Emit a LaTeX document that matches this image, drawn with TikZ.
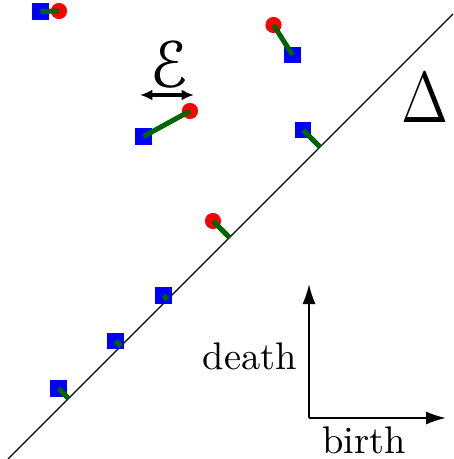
\documentclass[tikz,border=0pt]{standalone}
\usepackage{amsmath,amssymb}
\usepackage[mathscr]{eucal}
\usepackage{tikz}
\usepackage{xcolor}
\usetikzlibrary{positioning,arrows.meta}

\definecolor{matchgreen}{RGB}{0,100,0}

\begin{document}
\begin{tikzpicture}[
          x=0.26pt, y=-0.26pt,
          lbl/.style={font=\normalsize, inner sep=1pt},
          dot/.style={circle, fill=red, minimum size=4.2pt, inner sep=0pt},
          sq/.style={rectangle, fill=blue, minimum size=4.4pt, inner sep=0pt},
          match/.style={matchgreen, line width=1.3pt},
          axis/.style={line width=0.5pt, -{Latex[length=5.2pt, width=3.4pt]}}
      ]
        \useasboundingbox (0,0) rectangle (453,459);
        % diagonal
        \coordinate (dlo) at (8,459);
        \coordinate (dhi) at (453,14);
        \draw[line width=0.35pt] (dlo) -- (dhi);
        \node[font=\Large, inner sep=0pt] (delta) at (424.5,98) {\scalebox{1.04}[1.3]{$\Delta$}};
        % points
        \node[sq] (b1) at (40.5,11.5) {};
        \node[dot] (r1) at (59,11) {};
        \node[sq] (b2) at (143.5,136.5) {};
        \node[dot] (r2) at (190,111) {};
        \node[dot] (r3) at (273.5,25) {};
        \node[sq] (b3) at (292.5,55) {};
        \node[sq] (b4) at (303,130) {};
        \node[dot] (r5) at (213,221) {};
        \node[sq] (b6) at (163.5,295.5) {};
        \node[sq] (b7) at (115.5,341) {};
        \node[sq] (b8) at (58.5,388.5) {};
        \coordinate (p4) at (320,147);
        \coordinate (p5) at (229.5,237.5);
        \coordinate (p6) at (167.5,299.5);
        \coordinate (p7) at (120.75,346.25);
        \coordinate (p8) at (68.5,398.5);
        % matching
        \draw[match] (b1.center) -- (r1.center);
        \draw[match] (b2.center) -- (r2.center);
        \draw[match] (r3.center) -- (b3.center);
        \draw[match] (b4.center) -- (p4);
        \draw[match] (r5.center) -- (p5);
        \draw[match] (b6.center) -- (p6);
        \draw[match] (b7.center) -- (p7);
        \draw[match] (b8.center) -- (p8);
        % epsilon
        \coordinate (epsL) at (140,95);
        \coordinate (epsR) at (194,95);
        \draw[line width=1pt, {Latex[length=3.2pt, width=2.8pt]}-{Latex[length=3.2pt, width=2.8pt]}] (epsL) -- (epsR);
        \node[font=\LARGE] (eps) at (170.5,64) {$\mathscr{E}$};
        % axes
        \coordinate (orig) at (309,418);
        \coordinate (ytip) at (309,284);
        \coordinate (xtip) at (446,418);
        \draw[axis] (orig) -- (ytip);
        \draw[axis] (orig) -- (xtip);
        \node[lbl] (death) at (250,356) {death};
        \node[lbl] (birth) at (364,440) {birth};
      \end{tikzpicture}
\end{document}
